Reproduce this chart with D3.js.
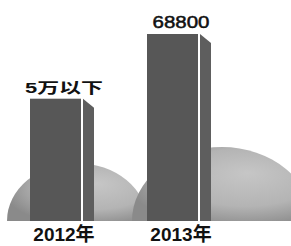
<!DOCTYPE html>
<html>
<head>
<meta charset="utf-8">
<script src="https://cdn.jsdelivr.net/npm/d3@7"></script>
<style>
  body { margin: 0; background: #fff; }
  svg { display: block; }
</style>
</head>
<body>
<div class="display"></div>
<script>
// Bar chart with 3D-ish side faces and grey domes behind

const WIDTH = 291;
const HEIGHT = 246;
const BASE_Y = 221; // baseline of bars
const TOP_Y = 34; // top of the tallest bar

const years = ['2012年', '2013年'];
const values = [45000, 68800];
const valueLabels = ['5万以下', '68800'];
const domeValues = [21300, 27200]; // decorative domes, height in value units

const FRONT_W = 51; // front face width
const GAP_W = 2; // white line between front and side
const SIDE_DROP = 9; // slant of the side top

const svg = d3.select('.display')
  .append('svg')
  .attr('width', WIDTH)
  .attr('height', HEIGHT);

svg.append('rect')
  .attr('width', WIDTH)
  .attr('height', HEIGHT)
  .attr('fill', '#fff');

const x = d3.scaleBand()
  .domain(years)
  .range([30, 211])
  .paddingInner(0.453)
  .paddingOuter(0);

const y = d3.scaleLinear()
  .domain([0, d3.max(values)])
  .range([BASE_Y, TOP_Y]);

// Dome gradient, lit from upper right
const defs = svg.append('defs');
const grad = defs.append('radialGradient')
  .attr('id', 'dome-grad')
  .attr('cx', 0.62).attr('cy', 0.45)
  .attr('fx', 0.64).attr('fy', 0.35)
  .attr('r', 0.65);
grad.append('stop').attr('offset', 0).attr('stop-color', '#c6c6c6');
grad.append('stop').attr('offset', 0.6).attr('stop-color', '#b4b4b4');
grad.append('stop').attr('offset', 1).attr('stop-color', '#8a8a8a');

// Domes sit slightly right of each bar
const domeCx = [x(years[0]) + 47, x(years[1]) + 75];
const domeRx = [70, 90];

svg.append('g')
  .selectAll('path')
  .data(domeValues)
  .enter()
  .append('path')
  .attr('d', (d, i) => {
    const cx = domeCx[i];
    const rx = domeRx[i];
    const ry = BASE_Y - y(d);
    return `M${cx - rx},${BASE_Y} A${rx},${ry} 0 0 1 ${cx + rx},${BASE_Y} Z`;
  })
  .attr('fill', 'url(#dome-grad)');

// Bars
const bars = svg.append('g')
  .selectAll('g')
  .data(values)
  .enter()
  .append('g');

bars.append('rect')
  .attr('x', (d, i) => x(years[i]))
  .attr('y', d => y(d))
  .attr('width', FRONT_W)
  .attr('height', d => BASE_Y - y(d))
  .attr('fill', '#575757');

bars.append('rect')
  .attr('x', (d, i) => x(years[i]) + FRONT_W)
  .attr('y', d => y(d))
  .attr('width', GAP_W)
  .attr('height', d => BASE_Y - y(d))
  .attr('fill', '#fff');

bars.append('path')
  .attr('d', (d, i) => {
    const sx = x(years[i]) + FRONT_W + GAP_W;
    const ex = x(years[i]) + x.bandwidth();
    return `M${sx},${y(d)} L${ex},${y(d) + SIDE_DROP} L${ex},${BASE_Y} L${sx},${BASE_Y} Z`;
  })
  .attr('fill', '#5e5e5e');

// Value labels on top
svg.append('g')
  .selectAll('text')
  .data(valueLabels)
  .enter()
  .append('text')
  .attr('x', (d, i) => x(years[i]) + x.bandwidth() / 2 + 2)
  .attr('y', (d, i) => y(values[i]) - 6)
  .attr('text-anchor', 'middle')
  .attr('font-family', 'Liberation Sans, Noto Sans CJK SC, sans-serif')
  .attr('font-size', (d, i) => i === 0 ? 15 : 17)
  .attr('font-weight', (d, i) => i === 0 ? 'bold' : 'normal')
  .attr('stroke', '#111')
  .attr('stroke-width', (d, i) => i === 0 ? 0 : 0.5)
  .attr('textLength', (d, i) => i === 0 ? 78 : 57)
  .attr('lengthAdjust', 'spacingAndGlyphs')
  .attr('fill', '#111')
  .text(d => d);

// Year labels under bars
svg.append('g')
  .selectAll('text')
  .data(years)
  .enter()
  .append('text')
  .attr('x', d => x(d) + x.bandwidth() / 2 + 2)
  .attr('y', 241)
  .attr('text-anchor', 'middle')
  .attr('font-family', 'Liberation Sans, Noto Sans CJK SC, sans-serif')
  .attr('font-size', 19)
  .attr('font-weight', 'bold')
  .attr('fill', '#111')
  .text(d => d);
</script>
</body>
</html>
